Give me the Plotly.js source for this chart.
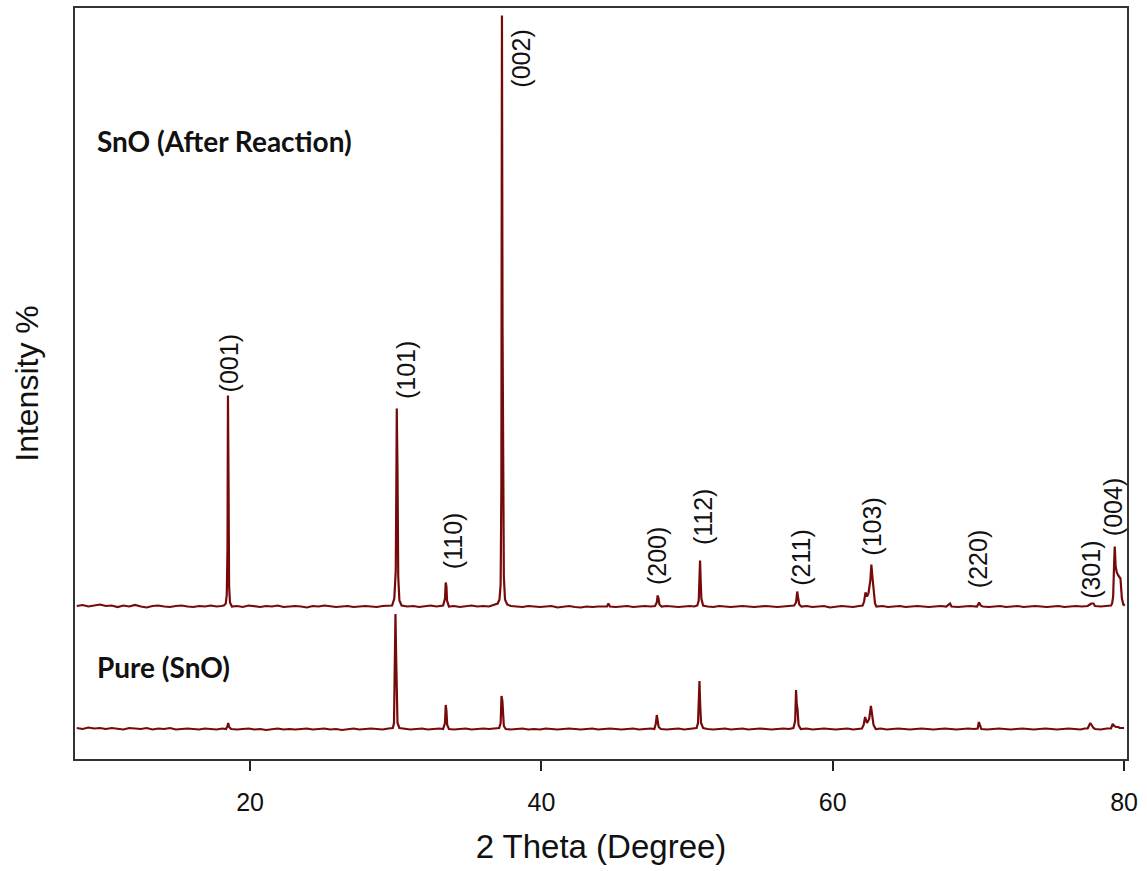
<!DOCTYPE html>
<html>
<head>
<meta charset="utf-8">
<script src="https://cdn.plot.ly/plotly-3.0.1.min.js"></script>
<style>html,body{margin:0;padding:0;background:#fff;}#chart{width:1147px;height:871px;}</style>
</head>
<body>
<div id="chart"></div>
<script>
// 2θ (degree), intensity (a.u., relative to each trace's own baseline)
const afterPattern = [
[8.1,0.5],[8.5,1.5],[8.9,0],[9.3,1],[9.7,2],[10.1,0.5],[10.5,1],[10.9,-0.5],[11.3,1],[11.7,0],[12.1,1.5],[12.5,0],[12.9,-1],[13.3,0.5],[13.7,1],[14.1,0],[14.5,-0.5],[14.9,0.5],[15.3,1],[15.7,0],[16.1,-0.5],[16.5,0.5],[16.9,0],[17.3,1],[17.7,0],[18.0,0.5],
[18.2,1],[18.33,3],[18.4,12],[18.45,60],[18.48,211],[18.52,125],[18.56,20],[18.62,4],[18.75,0],
[19.1,0.5],[19.5,-0.5],[19.9,1],[20.3,0],[20.7,-0.5],[21.1,0.5],[21.5,0],[21.9,1],[22.3,-0.5],[22.7,0],[23.1,0.5],[23.5,0],[23.9,-1],[24.3,0.5],[24.7,0],[25.1,1],[25.5,0],[25.9,-0.5],[26.3,0],[26.7,0.5],[27.1,-0.5],[27.5,0],[27.9,0.5],[28.3,0],[28.7,-0.5],[29.1,0.5],[29.5,1],
[29.75,1],[29.9,8],[30.0,36],[30.04,120],[30.07,198],[30.12,136],[30.17,30],[30.25,6],[30.4,1],
[30.8,0],[31.2,0.5],[31.6,-0.5],[32.0,0],[32.4,1],[32.8,0],[33.1,0.5],
[33.25,1],[33.38,8],[33.43,24],[33.48,20],[33.52,6],[33.65,0],
[34.0,0.5],[34.4,-0.5],[34.8,0],[35.2,1],[35.6,0],[36.0,0.5],[36.4,0],[36.8,1.5],
[37.0,3],[37.12,7],[37.2,22],[37.25,118],[37.29,591],[37.33,281],[37.37,118],[37.42,30],[37.5,7],[37.65,2],
[37.9,0.5],[38.3,0],[38.7,-0.5],[39.1,0.5],[39.5,0],[39.9,-0.5],[40.3,0],[40.7,0.5],[41.1,-1],[41.5,0],[41.9,0.5],[42.3,-0.5],[42.7,-1],[43.1,0],[43.5,-0.5],[43.9,0],[44.3,0.5],[44.5,0],[44.6,3],[44.7,0],[45.1,-0.5],[45.5,0],[45.9,0.5],[46.3,-0.5],[46.7,0],[47.1,0.5],[47.5,0],
[47.8,0.5],[47.92,4],[47.98,11],[48.04,8],[48.1,2],[48.25,0],
[48.6,0.5],[49.0,0],[49.4,-0.5],[49.8,0],[50.2,0.5],[50.5,0],
[50.7,1],[50.8,6],[50.85,23],[50.89,46],[50.94,23],[50.98,8],[51.1,1],
[51.4,0],[51.8,-0.5],[52.2,0.5],[52.6,0],[53.0,-0.5],[53.4,0],[53.8,0.5],[54.2,0],[54.6,-0.5],[55.0,0],[55.4,0.5],[55.8,0],[56.2,-0.5],[56.6,0],[57.0,0.5],
[57.35,1],[57.48,4],[57.56,15],[57.62,9],[57.7,2],[57.85,0],
[58.2,0.5],[58.6,-0.5],[59.0,0],[59.4,0.5],[59.8,-1],[60.2,0],[60.6,0.5],[61.0,0],[61.4,-0.5],[61.8,0.5],
[62.05,1],[62.15,5],[62.25,14],[62.35,10],[62.45,13],[62.58,26],[62.65,42],[62.72,30],[62.8,20],[62.9,3],[63.0,0],
[63.4,0.5],[63.8,-0.5],[64.2,0],[64.6,0.5],[65.0,-0.5],[65.4,0],[65.8,0.5],[66.2,0],[66.6,-0.5],[67.0,0],[67.4,0.5],[67.8,0],[67.95,2],[68.05,3],[68.15,0],[68.6,-0.5],[69.0,0],[69.4,0.5],[69.9,0],
[70.05,4],[70.15,1],[70.3,0],[70.7,-0.5],[71.1,0],[71.5,0.5],[71.9,-0.5],[72.3,0],[72.7,0.5],[73.1,-0.5],[73.5,0],[73.9,0.5],[74.3,0],[74.7,-0.5],[75.1,0],[75.5,0.5],[75.9,-0.5],[76.3,0],[76.7,0.5],[77.1,0],[77.5,0.5],
[77.65,2],[77.75,3],[77.9,3],[78.0,0.5],[78.4,0],[78.8,0.5],[79.1,1],
[79.18,3],[79.25,10],[79.32,45],[79.36,60],[79.42,40],[79.5,34],[79.6,31],[79.75,28],[79.85,8],[79.95,2],[80.05,1]
];

const purePattern = [
[8.1,1],[8.5,0],[8.9,1.5],[9.3,0.5],[9.7,1],[10.1,0],[10.5,1],[10.9,0.5],[11.3,-0.5],[11.7,1],[12.1,0.5],[12.5,0],[12.9,1],[13.3,-0.5],[13.7,0.5],[14.1,0],[14.5,1],[14.9,-0.5],[15.3,0],[15.7,0.5],[16.1,0],[16.5,-0.5],[16.9,0.5],[17.3,0],[17.7,-0.5],[18.1,0.5],
[18.35,0],[18.45,3],[18.5,6],[18.56,2],[18.7,0],
[19.1,-0.5],[19.5,0],[19.9,0.5],[20.3,-0.5],[20.7,0],[21.1,-1],[21.5,0],[21.9,0.5],[22.3,-0.5],[22.7,0],[23.1,-0.5],[23.5,0],[23.9,0.5],[24.3,-0.5],[24.7,0],[25.1,0.5],[25.5,-0.5],[25.9,0],[26.3,-1],[26.7,0],[27.1,0.5],[27.5,-0.5],[27.9,0],[28.3,0.5],[28.7,0],[29.1,-0.5],[29.5,0.5],
[29.8,1],[29.88,6],[29.92,36],[29.95,77],[29.98,115],[30.02,77],[30.06,36],[30.12,6],[30.25,1],
[30.6,0],[31.0,-0.5],[31.4,0],[31.8,0.5],[32.2,-0.5],[32.6,0],[33.0,0.5],
[33.25,0],[33.38,6],[33.43,24],[33.48,18],[33.53,4],[33.65,0],
[34.0,-0.5],[34.4,0],[34.8,0.5],[35.2,-0.5],[35.6,0],[36.0,0.5],[36.4,0],[36.8,0.5],
[37.1,1],[37.2,6],[37.26,33],[37.32,28],[37.36,12],[37.42,3],[37.55,0],
[37.9,-0.5],[38.3,0],[38.7,0.5],[39.1,-0.5],[39.5,0],[39.9,-0.5],[40.3,0.5],[40.7,0],[41.1,-0.5],[41.5,0],[41.9,0.5],[42.3,0],[42.7,-0.5],[43.1,0],[43.5,0.5],[43.9,-0.5],[44.3,0],[44.7,0.5],[45.1,0],[45.5,-0.5],[45.9,0],[46.3,0.5],[46.7,-0.5],[47.1,0],[47.5,0.5],
[47.75,0],[47.85,5],[47.92,14],[47.98,9],[48.05,2],[48.2,0],
[48.6,-0.5],[49.0,0],[49.4,0.5],[49.8,-0.5],[50.2,0],[50.5,0.5],
[50.65,1],[50.75,6],[50.81,24],[50.85,48],[50.9,24],[50.96,6],[51.1,1],
[51.4,0],[51.8,-0.5],[52.2,0],[52.6,0.5],[53.0,-0.5],[53.4,0],[53.8,0.5],[54.2,-0.5],[54.6,0],[55.0,0.5],[55.4,0],[55.8,-0.5],[56.2,0],[56.6,0.5],[57.0,0],
[57.3,1],[57.42,8],[57.48,39],[57.53,24],[57.58,20],[57.65,4],[57.8,0],
[58.2,0.5],[58.6,-0.5],[59.0,0],[59.4,0.5],[59.8,0],[60.2,-0.5],[60.6,0],[61.0,0.5],[61.4,-0.5],[61.8,0],
[62.0,0.5],[62.12,4],[62.22,12],[62.35,6],[62.5,10],[62.62,23],[62.7,15],[62.8,4],[62.95,0],
[63.3,0.5],[63.7,-0.5],[64.1,0],[64.5,0.5],[64.9,0],[65.3,-0.5],[65.7,0],[66.1,0.5],[66.5,0],[66.9,-0.5],[67.3,0],[67.7,0.5],[68.1,0],[68.5,-0.5],[68.9,0],[69.3,0.5],[69.7,0],
[69.95,0.5],[70.03,7],[70.1,3],[70.2,0],
[70.6,-0.5],[71.0,0],[71.4,0.5],[71.8,0],[72.2,-0.5],[72.6,0],[73.0,0.5],[73.4,0],[73.8,-0.5],[74.2,0],[74.6,0.5],[75.0,0],[75.4,-0.5],[75.8,0],[76.2,0.5],[76.6,0],[77.0,-0.5],[77.3,0.5],
[77.5,0.5],[77.68,6],[77.8,3],[77.9,1],[78.0,0],[78.4,-0.5],[78.8,0.5],
[79.1,0.5],[79.22,5],[79.32,3],[79.45,2],[79.6,2],[79.7,1],[79.85,1],[80.0,1]
];

// vertical offsets of the stacked patterns
const afterOffset = 152.5;
const pureOffset = 30;

// Miller index labels for the "after reaction" pattern
const hklLabels = ["(001)","(101)","(110)","(002)","(200)","(112)","(211)","(103)","(220)","(301)","(004)"];
const hklTheta  = [18.58, 30.71, 33.94, 38.54, 47.94, 51.1, 57.8, 62.67, 69.98, 77.72, 79.25];
const hklLevel  = [396, 389, 218, 700.5, 203, 242, 202, 232, 200, 189, 252];

const xTicks = [20, 40, 60, 80];

const lineColor = "#760a0a";

const traces = [
  {
    x: purePattern.map(p => p[0]),
    y: purePattern.map(p => p[1] + pureOffset),
    type: "scatter", mode: "lines", name: "Pure (SnO)",
    line: {color: lineColor, width: 2.2}, hoverinfo: "x+y"
  },
  {
    x: afterPattern.map(p => p[0]),
    y: afterPattern.map(p => p[1] + afterOffset),
    type: "scatter", mode: "lines", name: "SnO (After Reaction)",
    line: {color: lineColor, width: 2.2}, hoverinfo: "x+y"
  }
];

const annotations = hklLabels.map((t, i) => ({
  x: hklTheta[i], y: hklLevel[i], xref: "x", yref: "y",
  text: t, showarrow: false, textangle: -90,
  xanchor: "center", yanchor: "middle",
  font: {family: "Liberation Sans, Arial, sans-serif", size: 25, color: "#111"}
}));

annotations.push({
  x: 0.019, y: 0.823, xref: "paper", yref: "paper", xanchor: "left", yanchor: "middle",
  text: "<b>SnO (After Reaction)</b>", showarrow: false,
  font: {family: "Lato, sans-serif", size: 28, color: "#111"}
});
annotations.push({
  x: 0.019, y: 0.1225, xref: "paper", yref: "paper", xanchor: "left", yanchor: "middle",
  text: "<b>Pure (SnO)</b>", showarrow: false,
  font: {family: "Lato, sans-serif", size: 28, color: "#111"}
});

const layout = {
  width: 1147, height: 871,
  margin: {l: 75, r: 20, t: 8, b: 112},
  paper_bgcolor: "#fff", plot_bgcolor: "#fff",
  showlegend: false,
  xaxis: {
    range: [7.98, 80.2],
    tickvals: xTicks, ticktext: xTicks.map(String),
    ticks: "outside", ticklen: 10, tickwidth: 2, tickcolor: "#222",
    ticklabelstandoff: 10,
    showgrid: false, zeroline: false,
    showline: true, linecolor: "#333", linewidth: 2, mirror: true,
    tickfont: {family: "Liberation Sans, Arial, sans-serif", size: 25, color: "#111"},
    title: {text: "2 Theta (Degree)", font: {family: "Liberation Sans, Arial, sans-serif", size: 33, color: "#111"}, standoff: 20}
  },
  yaxis: {
    range: [0, 751],
    showticklabels: false, ticks: "",
    showgrid: false, zeroline: false,
    showline: true, linecolor: "#333", linewidth: 2, mirror: true,
    title: {text: "Intensity %", font: {family: "Liberation Sans, Arial, sans-serif", size: 32, color: "#111"}, standoff: 25}
  },
  annotations: annotations
};

Plotly.newPlot("chart", traces, layout, {displayModeBar: false, staticPlot: true});
</script>
</body>
</html>
